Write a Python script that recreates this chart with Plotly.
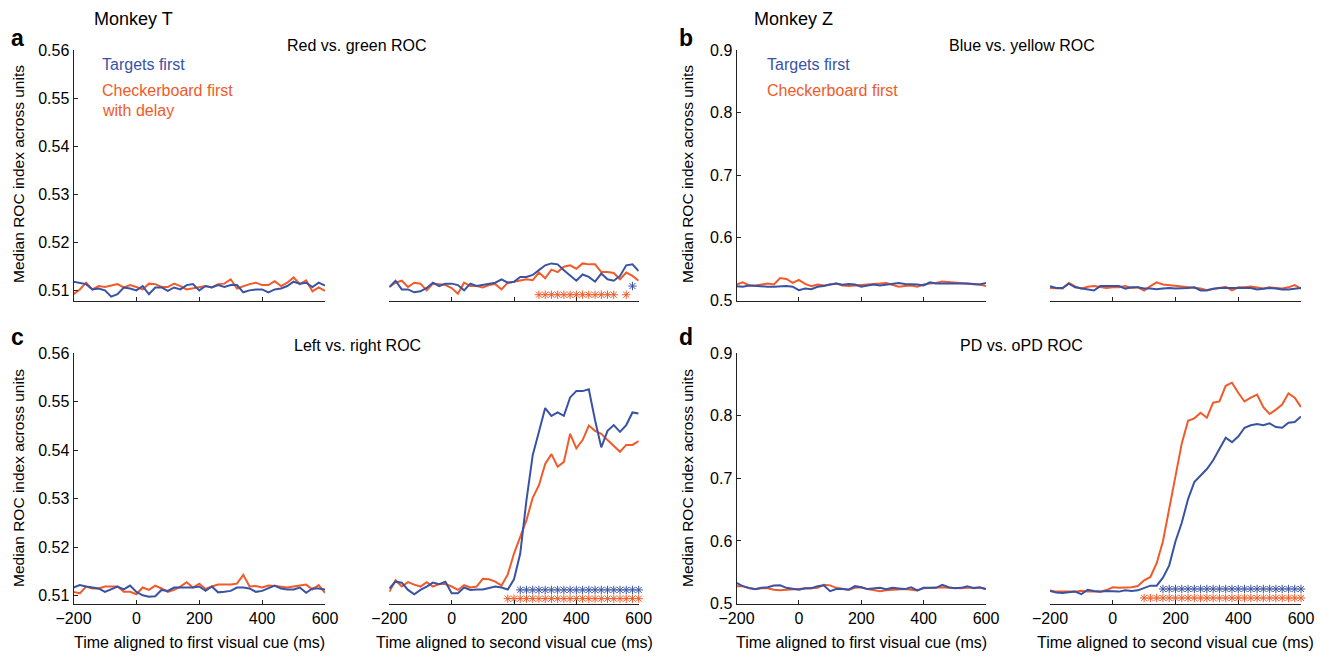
import plotly.graph_objects as go

W, H = 1321, 656
BLUE = "#3953a4"
ORANGE = "#f15a29"
AXC = "#222222"
FONT = "Liberation Sans, Arial, sans-serif"

# ---------------- data ----------------
t_ms = [-200, -180, -160, -140, -120, -100, -80, -60, -40, -20, 0, 20, 40, 60, 80, 100,
        120, 140, 160, 180, 200, 220, 240, 260, 280, 300, 320, 340, 360, 380, 400, 420,
        440, 460, 480, 500, 520, 540, 560, 580, 600]

# Panel a (Monkey T, red vs. green ROC)
a_first_blue = [0.5119, 0.5117, 0.5114, 0.5103, 0.5105, 0.5101, 0.5088, 0.5093, 0.5107, 0.5105,
                0.5101, 0.5110, 0.5093, 0.5107, 0.5107, 0.5100, 0.5107, 0.5103, 0.5112, 0.5114,
                0.5101, 0.5110, 0.5107, 0.5112, 0.5108, 0.5112, 0.5112, 0.5097, 0.5101, 0.5103,
                0.5103, 0.5097, 0.5103, 0.5105, 0.5110, 0.5119, 0.5115, 0.5117, 0.5108, 0.5117, 0.5111]
a_first_orange = [0.5093, 0.5103, 0.5117, 0.5103, 0.5110, 0.5108, 0.5111, 0.5114, 0.5107, 0.5112,
                  0.5108, 0.5103, 0.5115, 0.5114, 0.5108, 0.5108, 0.5115, 0.5110, 0.5103, 0.5105,
                  0.5108, 0.5110, 0.5107, 0.5114, 0.5115, 0.5124, 0.5105, 0.5110, 0.5114, 0.5117,
                  0.5112, 0.5112, 0.5120, 0.5110, 0.5117, 0.5128, 0.5114, 0.5122, 0.5099, 0.5107, 0.5100]
a_second_blue = [0.5108, 0.5121, 0.5103, 0.5103, 0.5097, 0.5099, 0.5106, 0.5117, 0.5110, 0.5115,
                 0.5115, 0.5112, 0.5101, 0.5115, 0.5110, 0.5112, 0.5115, 0.5117, 0.5124, 0.5117,
                 0.5119, 0.5129, 0.5129, 0.5133, 0.5143, 0.5153, 0.5157, 0.5155, 0.5143, 0.5131,
                 0.5121, 0.5134, 0.5129, 0.5119, 0.5136, 0.5124, 0.5121, 0.5131, 0.5153, 0.5155, 0.5141]
a_second_orange = [0.5108, 0.5117, 0.5121, 0.5108, 0.5117, 0.5115, 0.5101, 0.5115, 0.5114, 0.5112,
                   0.5106, 0.5094, 0.5117, 0.5110, 0.5110, 0.5107, 0.5112, 0.5114, 0.5103, 0.5117,
                   0.5119, 0.5121, 0.5124, 0.5122, 0.5138, 0.5126, 0.5144, 0.5139, 0.5150, 0.5153,
                   0.5146, 0.5157, 0.5155, 0.5155, 0.5139, 0.5139, 0.5137, 0.5124, 0.5138, 0.5131, 0.5121]
a_sig_blue_t = [580]
a_sig_blue_y = [0.5110]
a_sig_orange_t = [280, 300, 320, 340, 360, 380, 400, 420, 440, 460, 480, 500, 520, 560]
a_sig_orange_y = [0.5092] * len(a_sig_orange_t)

# Panel b (Monkey Z, blue vs. yellow ROC)
b_first_blue = [0.5228, 0.5218, 0.524, 0.523, 0.522, 0.522, 0.522, 0.523, 0.523, 0.522,
                0.5165, 0.519, 0.518, 0.522, 0.523, 0.5255, 0.527, 0.525, 0.5265, 0.5255,
                0.522, 0.524, 0.5255, 0.524, 0.525, 0.5265, 0.528, 0.5265, 0.5265, 0.5255,
                0.524, 0.529, 0.527, 0.527, 0.528, 0.527, 0.528, 0.527, 0.5265, 0.5255, 0.528]
b_first_orange = [0.5255, 0.529, 0.5245, 0.524, 0.5255, 0.527, 0.5255, 0.536, 0.5345, 0.528,
                  0.533, 0.5265, 0.523, 0.5255, 0.524, 0.5255, 0.527, 0.524, 0.523, 0.524,
                  0.5245, 0.525, 0.526, 0.527, 0.528, 0.5255, 0.522, 0.523, 0.524, 0.522,
                  0.5255, 0.527, 0.528, 0.5305, 0.5295, 0.529, 0.527, 0.5265, 0.526, 0.5255, 0.523]
b_second_blue = [0.523, 0.520, 0.520, 0.527, 0.521, 0.519, 0.5176, 0.516, 0.523, 0.523,
                 0.523, 0.523, 0.519, 0.521, 0.521, 0.519, 0.519, 0.518, 0.519, 0.520,
                 0.519, 0.519, 0.520, 0.521, 0.516, 0.516, 0.5187, 0.520, 0.520, 0.521,
                 0.521, 0.521, 0.520, 0.5176, 0.5187, 0.520, 0.519, 0.5176, 0.5176, 0.519, 0.520]
b_second_orange = [0.520, 0.520, 0.519, 0.528, 0.5225, 0.519, 0.522, 0.523, 0.521, 0.520,
                   0.521, 0.521, 0.523, 0.520, 0.521, 0.516, 0.523, 0.529, 0.5257, 0.5246,
                   0.5235, 0.5225, 0.521, 0.520, 0.519, 0.5166, 0.518, 0.520, 0.522, 0.516,
                   0.521, 0.521, 0.5225, 0.521, 0.519, 0.521, 0.520, 0.519, 0.521, 0.5246, 0.519]

# Panel c (Monkey T, left vs. right ROC)
c_first_blue = [0.5117, 0.5122, 0.5119, 0.5117, 0.5115, 0.5108, 0.5113, 0.5119, 0.5113, 0.5121,
                0.5108, 0.5101, 0.5098, 0.5099, 0.5112, 0.5110, 0.5117, 0.5117, 0.5117, 0.5117,
                0.5119, 0.5110, 0.5119, 0.5107, 0.5108, 0.5110, 0.5117, 0.5117, 0.5115, 0.5108,
                0.5110, 0.5115, 0.5121, 0.5115, 0.5113, 0.5113, 0.5117, 0.5106, 0.5115, 0.5115, 0.5113]
c_first_orange = [0.5108, 0.5105, 0.5119, 0.5115, 0.5115, 0.5119, 0.5119, 0.5119, 0.5108, 0.5108,
                  0.5103, 0.5117, 0.5112, 0.5121, 0.5115, 0.5108, 0.5112, 0.5119, 0.5128, 0.5117,
                  0.5125, 0.5114, 0.5119, 0.5123, 0.5123, 0.5123, 0.5125, 0.5143, 0.5119, 0.5120,
                  0.5117, 0.5121, 0.5120, 0.5119, 0.5117, 0.5119, 0.5121, 0.5123, 0.5113, 0.5122, 0.5106]
c_second_blue = [0.5115, 0.5129, 0.5127, 0.5112, 0.5103, 0.5112, 0.5119, 0.5127, 0.5124, 0.5129,
                 0.5105, 0.5105, 0.5117, 0.5112, 0.5113, 0.5113, 0.5116, 0.5119, 0.5117, 0.5113,
                 0.5134, 0.5187, 0.5297, 0.5390, 0.5438, 0.5487, 0.5471, 0.5478, 0.5471, 0.5509,
                 0.5522, 0.5522, 0.5526, 0.5462, 0.5406, 0.5440, 0.5452, 0.5438, 0.5452, 0.5478, 0.5476]
c_second_orange = [0.5108, 0.5132, 0.5119, 0.5128, 0.5123, 0.5119, 0.5128, 0.5119, 0.5124, 0.5124,
                   0.5119, 0.5112, 0.5122, 0.5117, 0.5119, 0.5135, 0.5134, 0.5129, 0.5121, 0.5144,
                   0.5187, 0.5222, 0.5256, 0.5302, 0.5328, 0.5372, 0.5392, 0.5366, 0.5376, 0.5434,
                   0.5404, 0.5421, 0.5451, 0.5440, 0.5434, 0.5421, 0.5409, 0.5397, 0.5411, 0.5411, 0.5419]
c_sig_blue_t = [220, 240, 260, 280, 300, 320, 340, 360, 380, 400, 420, 440, 460, 480, 500,
                520, 540, 560, 580, 600]
c_sig_blue_y = [0.5112] * len(c_sig_blue_t)
c_sig_orange_t = [180, 200, 220, 240, 260, 280, 300, 320, 340, 360, 380, 400, 420, 440, 460,
                  480, 500, 520, 540, 560, 580, 600]
c_sig_orange_y = [0.5094] * len(c_sig_orange_t)

# Panel d (Monkey Z, PD vs. oPD ROC)
d_first_blue = [0.533, 0.5277, 0.525, 0.523, 0.525, 0.526, 0.5287, 0.529, 0.525, 0.523,
                0.522, 0.5245, 0.5245, 0.5277, 0.529, 0.5197, 0.523, 0.523, 0.522, 0.5277,
                0.526, 0.523, 0.524, 0.525, 0.523, 0.525, 0.524, 0.523, 0.526, 0.521,
                0.525, 0.5245, 0.525, 0.530, 0.526, 0.5245, 0.525, 0.5277, 0.5245, 0.526, 0.523]
d_first_orange = [0.5277, 0.5277, 0.5245, 0.523, 0.5245, 0.5245, 0.522, 0.521, 0.522, 0.523,
                  0.523, 0.524, 0.5245, 0.525, 0.530, 0.529, 0.525, 0.523, 0.522, 0.525,
                  0.526, 0.523, 0.521, 0.5197, 0.521, 0.522, 0.523, 0.523, 0.522, 0.521,
                  0.5245, 0.525, 0.5245, 0.526, 0.525, 0.5245, 0.5245, 0.525, 0.5245, 0.525, 0.523]
d_second_blue = [0.520, 0.5177, 0.5167, 0.5177, 0.519, 0.515, 0.522, 0.520, 0.519, 0.520,
                 0.519, 0.519, 0.521, 0.520, 0.521, 0.5253, 0.5285, 0.5285, 0.5414, 0.561,
                 0.5995, 0.629, 0.667, 0.694, 0.705, 0.715, 0.729, 0.746, 0.765, 0.758,
                 0.767, 0.781, 0.785, 0.787, 0.785, 0.788, 0.782, 0.781, 0.789, 0.790, 0.799]
d_second_orange = [0.521, 0.519, 0.519, 0.519, 0.519, 0.5204, 0.519, 0.519, 0.519, 0.5215,
                   0.526, 0.525, 0.525, 0.526, 0.528, 0.537, 0.5425, 0.5645, 0.5995, 0.653,
                   0.705, 0.756, 0.792, 0.796, 0.805, 0.797, 0.821, 0.823, 0.848, 0.853,
                   0.837, 0.823, 0.829, 0.834, 0.814, 0.803, 0.810, 0.818, 0.836, 0.829, 0.814]
d_sig_blue_t = [160, 180, 200, 220, 240, 260, 280, 300, 320, 340, 360, 380, 400, 420, 440,
                460, 480, 500, 520, 540, 560, 580, 600]
d_sig_blue_y = [0.5232] * len(d_sig_blue_t)
d_sig_orange_t = [100, 120, 140, 160, 180, 200, 220, 240, 260, 280, 300, 320, 340, 360, 380,
                  400, 420, 440, 460, 480, 500, 520, 540, 560, 580, 600]
d_sig_orange_y = [0.5088] * len(d_sig_orange_t)

x_ticks = [-200, 0, 200, 400, 600]
y_ticks_T = [0.51, 0.52, 0.53, 0.54, 0.55, 0.56]
y_ticks_Z = [0.5, 0.6, 0.7, 0.8, 0.9]

# ---------------- layout helpers ----------------
def fx(p):
    return p / W


def fy(p):
    return 1 - p / H


col_px = [(73.5, 325.0), (389.3, 638.7), (736.5, 986.0), (1050.0, 1301.0)]
row_px = [(50.0, 300.5), (353.3, 603.5)]

axes_def = [
    (0, 0, a_first_blue, a_first_orange, [0.508, 0.56], y_ticks_T, ".2f", True, []),
    (1, 0, a_second_blue, a_second_orange, [0.508, 0.56], y_ticks_T, ".2f", False,
     [(a_sig_blue_t, a_sig_blue_y, BLUE), (a_sig_orange_t, a_sig_orange_y, ORANGE)]),
    (2, 0, b_first_blue, b_first_orange, [0.5, 0.9], y_ticks_Z, ".1f", True, []),
    (3, 0, b_second_blue, b_second_orange, [0.5, 0.9], y_ticks_Z, ".1f", False, []),
    (0, 1, c_first_blue, c_first_orange, [0.5084, 0.56], y_ticks_T, ".2f", True, []),
    (1, 1, c_second_blue, c_second_orange, [0.5084, 0.56], y_ticks_T, ".2f", False,
     [(c_sig_blue_t, c_sig_blue_y, BLUE), (c_sig_orange_t, c_sig_orange_y, ORANGE)]),
    (2, 1, d_first_blue, d_first_orange, [0.5, 0.9], y_ticks_Z, ".1f", True, []),
    (3, 1, d_second_blue, d_second_orange, [0.5, 0.9], y_ticks_Z, ".1f", False,
     [(d_sig_blue_t, d_sig_blue_y, BLUE), (d_sig_orange_t, d_sig_orange_y, ORANGE)]),
]

fig = go.Figure()
layout = {}
for i, (c, r, blue, orange, yr, yt, yf, left, sigs) in enumerate(axes_def, start=1):
    sfx = "" if i == 1 else str(i)
    xa, ya = "x" + sfx, "y" + sfx
    fig.add_trace(go.Scatter(x=t_ms, y=orange, mode="lines", line=dict(color=ORANGE, width=2),
                             xaxis=xa, yaxis=ya, showlegend=False, hoverinfo="skip"))
    fig.add_trace(go.Scatter(x=t_ms, y=blue, mode="lines", line=dict(color=BLUE, width=2),
                             xaxis=xa, yaxis=ya, showlegend=False, hoverinfo="skip"))
    for st, sy, col in sigs:
        fig.add_trace(go.Scatter(x=st, y=sy, mode="markers",
                                 marker=dict(symbol="asterisk-open", size=7, color=col,
                                             line=dict(color=col, width=1)),
                                 cliponaxis=False, xaxis=xa, yaxis=ya,
                                 showlegend=False, hoverinfo="skip"))
    x0, x1 = col_px[c]
    yt0, yb0 = row_px[r]
    layout["xaxis" + sfx] = dict(
        domain=[fx(x0), fx(x1)], range=[-200, 600], anchor=ya, automargin=False,
        showline=True, linecolor=AXC, linewidth=1, mirror=False,
        ticks="inside", ticklen=4, tickcolor=AXC, tickwidth=1,
        tickvals=x_ticks, showticklabels=(r == 1),
        tickfont=dict(size=16, color="black", family=FONT),
        showgrid=False, zeroline=False, fixedrange=True)
    layout["yaxis" + sfx] = dict(
        domain=[fy(yb0), fy(yt0)], range=yr, anchor=xa, automargin=False,
        showline=left, linecolor=AXC, linewidth=1,
        ticks="inside" if left else "", ticklen=4, tickcolor=AXC, tickwidth=1,
        tickvals=yt, tickformat=yf, showticklabels=left,
        tickfont=dict(size=16, color="black", family=FONT),
        showgrid=False, zeroline=False, fixedrange=True)

fig.update_layout(**layout)

ann = []


def add_text(text, x, y, size=16, color="black", xanchor="center", bold=False, angle=0):
    ann.append(dict(text=("<b>%s</b>" % text) if bold else text, x=fx(x), y=fy(y),
                    xref="paper", yref="paper", xanchor=xanchor, yanchor="middle",
                    showarrow=False, textangle=angle,
                    font=dict(size=size, color=color, family=FONT)))


add_text("Monkey T", 92, 18.5, size=18, xanchor="left")
add_text("Monkey Z", 752, 18.5, size=18, xanchor="left")
add_text("a", 17, 38, size=23, bold=True)
add_text("b", 686, 38, size=23, bold=True)
add_text("c", 17.5, 337, size=23, bold=True)
add_text("d", 686, 337, size=23, bold=True)
add_text("Red vs. green ROC", 357, 45.5)
add_text("Blue vs. yellow ROC", 1022, 45.5)
add_text("Left vs. right ROC", 357, 345.5)
add_text("PD vs. oPD ROC", 1022, 345.5)
add_text("Targets first", 100, 64.5, color=BLUE, xanchor="left")
add_text("Checkerboard first", 100, 91, color=ORANGE, xanchor="left")
add_text("with delay", 100, 110, color=ORANGE, xanchor="left")
add_text("Targets first", 765, 64.5, color=BLUE, xanchor="left")
add_text("Checkerboard first", 765, 91, color=ORANGE, xanchor="left")
for xx, yy in [(18, 174), (18, 478), (687, 174), (687, 478)]:
    add_text("Median ROC index across units", xx, yy, size=15.5, angle=-90)
for xx, txt in [(199, "Time aligned to first visual cue (ms)"),
                (514, "Time aligned to second visual cue (ms)"),
                (861, "Time aligned to first visual cue (ms)"),
                (1175, "Time aligned to second visual cue (ms)")]:
    add_text(txt, xx, 642, size=16)

fig.update_layout(
    width=W, height=H,
    margin=dict(l=0, r=0, t=0, b=0, pad=0, autoexpand=False),
    paper_bgcolor="white", plot_bgcolor="white",
    font=dict(family=FONT, size=16, color="black"),
    annotations=ann, showlegend=False,
)

fig.write_html("out.html", config={"displayModeBar": False})
